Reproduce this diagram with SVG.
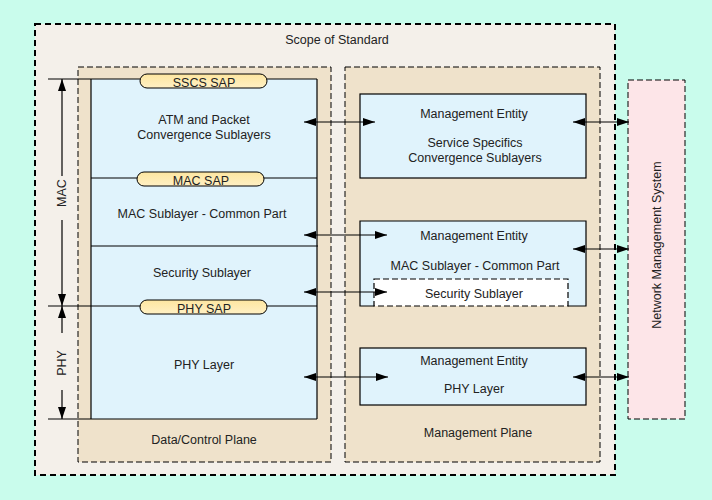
<svg xmlns="http://www.w3.org/2000/svg" width="712" height="500" viewBox="0 0 712 500">
<defs>
<linearGradient id="pill" x1="0" y1="0" x2="0" y2="1">
<stop offset="0" stop-color="#fde6a0"/>
<stop offset="1" stop-color="#fff0c4"/>
</linearGradient>
<marker id="ah" viewBox="0 0 12 8" refX="12" refY="4" markerWidth="12" markerHeight="8" markerUnits="userSpaceOnUse" orient="auto-start-reverse">
<path d="M0,0 L12,4 L0,8 Z" fill="#000"/>
</marker>
</defs>
<style>
text{font-family:"Liberation Sans",Arial,sans-serif;font-size:12.5px;fill:#222;text-anchor:middle}
.ln{stroke:#000;stroke-width:1.2;fill:none}
.box{stroke:#000;stroke-width:1.2;fill:#e0f3fc}
.plane{fill:#efe2cb;stroke:#000;stroke-width:1;stroke-dasharray:6,3}
.sap{fill:url(#pill);stroke:#000;stroke-width:1}
.arr{stroke:#000;stroke-width:1.2;fill:none;marker-start:url(#ah);marker-end:url(#ah)}
.arr1{stroke:#000;stroke-width:1.2;fill:none;marker-end:url(#ah)}
</style>
<rect width="712" height="500" fill="#c9fcec"/>
<g id="scope">
<rect x="35" y="24" width="580" height="451" fill="#f4f0ea" stroke="#000" stroke-width="2" stroke-dasharray="6,4"/>
<text x="337" y="44">Scope of Standard</text>
</g>
<g id="data-control-plane">
<rect class="plane" x="78" y="67" width="253" height="395"/>
<text x="204" y="444">Data/Control Plane</text>
</g>
<g id="management-plane">
<rect class="plane" x="345" y="67" width="255" height="395"/>
<text x="478" y="437">Management Plane</text>
</g>
<g id="nms">
<rect x="628" y="80" width="57" height="339" fill="#fde5e8" stroke="#000" stroke-width="1" stroke-dasharray="6,3"/>
<text transform="translate(661,245) rotate(-90)">Network Management System</text>
</g>
<g id="data-stack">
<rect x="91" y="79" width="226" height="340" fill="#e0f3fc" stroke="none"/>
<path class="ln" d="M91,79 V419 M317,79 V419 M48,79 H317 M48,419 H317 M91,178 H317 M91,246 H318 M48,306 H317"/>
</g>
<g id="cs-layer">
<text x="204" y="124">ATM and Packet</text>
<text x="204" y="139">Convergence Sublayers</text>
</g>
<g id="mac-cps">
<text x="202" y="218">MAC Sublayer - Common Part</text>
</g>
<g id="security">
<text x="202" y="277">Security Sublayer</text>
</g>
<g id="phy">
<text x="204" y="369">PHY Layer</text>
</g>
<g id="sscs-sap">
<rect class="sap" x="140" y="74" width="127" height="14" rx="7"/>
<text x="204" y="87">SSCS SAP</text>
</g>
<g id="mac-sap">
<rect class="sap" x="137" y="172" width="127" height="14" rx="7"/>
<text x="201" y="185">MAC SAP</text>
</g>
<g id="phy-sap">
<rect class="sap" x="140" y="300" width="127" height="14" rx="7"/>
<text x="204" y="313">PHY SAP</text>
</g>
<g id="me-cs">
<rect class="box" x="360" y="94" width="226" height="84"/>
<text x="474" y="118">Management Entity</text>
<text x="475" y="147">Service Specifics</text>
<text x="475" y="162">Convergence Sublayers</text>
</g>
<g id="me-mac">
<rect x="360" y="221" width="226" height="85" fill="#e0f3fc" stroke="none"/>
<path class="ln" d="M374,306 H360 V221 H586 V306 H568"/>
<text x="474" y="240">Management Entity</text>
<text x="475" y="270">MAC Sublayer - Common Part</text>
</g>
<g id="me-security">
<rect x="374" y="279" width="194" height="27" fill="#fff" stroke="#000" stroke-width="1.2" stroke-dasharray="6,3"/>
<text x="474" y="298">Security Sublayer</text>
</g>
<g id="me-phy">
<rect class="box" x="360" y="348" width="226" height="57"/>
<text x="474" y="365">Management Entity</text>
<text x="474" y="393">PHY Layer</text>
</g>
<g id="dimensions">
<path class="arr1" d="M62,176 V79"/>
<path class="arr1" d="M62,220 V306"/>
<path class="arr1" d="M62,333 V306"/>
<path class="arr1" d="M62,390 V419"/>
<text transform="translate(66,193) rotate(-90)">MAC</text>
<text transform="translate(66,363) rotate(-90)">PHY</text>
</g>
<g id="connectors">
<path class="arr" d="M304,122 H375"/>
<path class="arr" d="M573,122 H629"/>
<path class="arr" d="M304,235 H387"/>
<path class="arr" d="M573,249 H629"/>
<path class="arr" d="M304,292 H387"/>
<path class="arr" d="M304,377 H388"/>
<path class="arr" d="M573,377 H629"/>
</g>
</svg>
